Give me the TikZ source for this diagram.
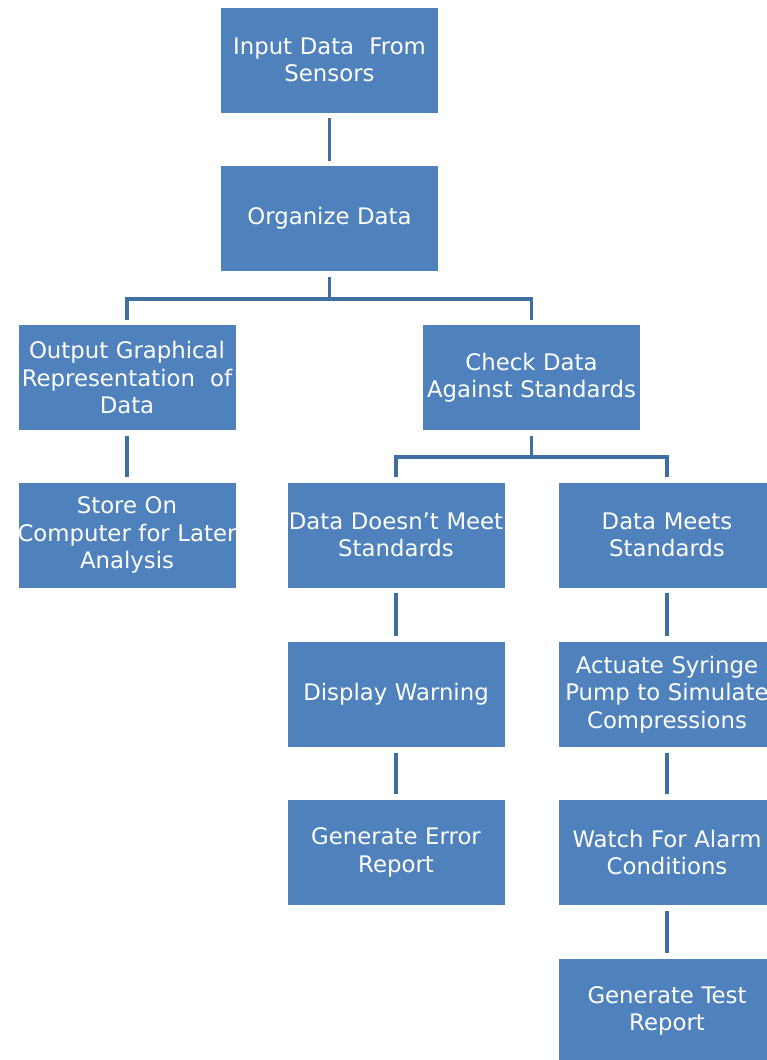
\documentclass[tikz,border=0pt]{standalone}
\usepackage{fontspec}
\setmainfont{DejaVu Sans}
\newcommand{\fitline}[1]{\makebox[216pt][c]{#1}}
\begin{document}
\begin{tikzpicture}[x=1pt,y=-1pt,
  stepbox/.style={rectangle, fill=boxblue, draw=white, line width=0.8pt,
    minimum width=218pt, minimum height=106pt, inner sep=0pt,
    text width=216pt, align=center, text=white,
    font=\fontsize{22.8}{27.5}\selectfont},
  conn/.style={draw=linkblue, line width=3.6pt}]
\definecolor{boxblue}{HTML}{4F81BD}
\definecolor{linkblue}{HTML}{3F6EA2}
\useasboundingbox (0,0) rectangle (767,1060);
\clip (0,0) rectangle (767,1060);

% process boxes
\node[stepbox] (b1)  at (329.5,60)    {Input Data \ From\\Sensors};
\node[stepbox] (b2)  at (329.5,218.5) {Organize Data};
\node[stepbox] (b3)  at (127,377.5)   {Output Graphical\\Representation \ of\\Data};
\node[stepbox] (b4)  at (531.5,377.5) {Check Data\\Against Standards};
\node[stepbox] (b5)  at (127,535)     {Store On\\\fitline{Computer for Later}\\Analysis};
\node[stepbox] (b6)  at (396,535)     {Data Doesn’t Meet\\Standards};
\node[stepbox] (b7)  at (667,535)     {Data Meets\\Standards};
\node[stepbox] (b8)  at (396,694.5)   {Display Warning};
\node[stepbox] (b9)  at (667,694.5)   {Actuate Syringe\\\fitline{Pump to Simulate}\\Compressions};
\node[stepbox] (b10) at (396,852.5)   {Generate Error\\Report};
\node[stepbox] (b11) at (667,852.5)   {Watch For Alarm\\Conditions};
\node[stepbox] (b12) at (667,1011)    {Generate Test\\Report};

% bus junctions
\coordinate (j1) at (329.5,299);
\coordinate (j2) at (531.5,457);

% connectors
\draw[conn] ([yshift=-5pt]b1.south) -- ([yshift=4pt]b2.north);
\draw[conn] ([yshift=-5pt]b2.south) -- (j1);
\draw[conn] ([yshift=4pt]b3.north) |- (j1) -| ([yshift=4pt]b4.north);
\draw[conn] ([yshift=-5pt]b3.south) -- ([yshift=5pt]b5.north);
\draw[conn] ([yshift=-5pt]b4.south) -- (j2);
\draw[conn] ([yshift=5pt]b6.north) |- (j2) -| ([yshift=5pt]b7.north);
\draw[conn] ([yshift=-5pt]b6.south) -- ([yshift=5pt]b8.north);
\draw[conn] ([yshift=-5pt]b8.south) -- ([yshift=5pt]b10.north);
\draw[conn] ([yshift=-5pt]b7.south) -- ([yshift=5pt]b9.north);
\draw[conn] ([yshift=-5pt]b9.south) -- ([yshift=5pt]b11.north);
\draw[conn] ([yshift=-5pt]b11.south) -- ([yshift=5pt]b12.north);
\end{tikzpicture}
\end{document}
